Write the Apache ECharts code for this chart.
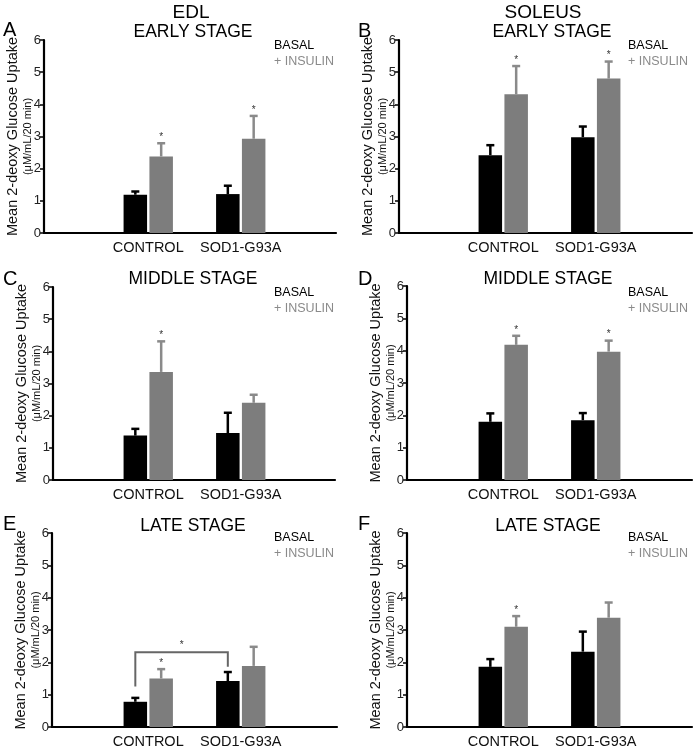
<!DOCTYPE html>
<html>
<head>
<meta charset="utf-8">
<script src="https://cdn.jsdelivr.net/npm/echarts@6/dist/echarts.min.js"></script>
<style>
  html, body { margin: 0; padding: 0; background: #fff; }
  #chart { width: 695px; height: 750px; }
</style>
</head>
<body>
<div id="chart"></div>
<script>
// ---------------- DATA ----------------
const categories = ['CONTROL', 'SOD1-G93A'];
const yTicks = [0, 1, 2, 3, 4, 5, 6];
const seriesNames = ['BASAL', '+ INSULIN'];

// Panel A: EDL early stage
const basalA = [1.19, 1.21];
const basalErrA = [0.10, 0.26];
const insulinA = [2.38, 2.93];
const insulinErrA = [0.41, 0.71];
const sigA = [1, 1];

// Panel B: Soleus early stage
const basalB = [2.42, 2.98];
const basalErrB = [0.31, 0.33];
const insulinB = [4.31, 4.80];
const insulinErrB = [0.88, 0.53];
const sigB = [1, 1];

// Panel C: EDL middle stage
const basalC = [1.38, 1.46];
const basalErrC = [0.21, 0.63];
const insulinC = [3.36, 2.40];
const insulinErrC = [0.95, 0.25];
const sigC = [1, 0];

// Panel D: Soleus middle stage
const basalD = [1.80, 1.85];
const basalErrD = [0.26, 0.22];
const insulinD = [4.18, 3.97];
const insulinErrD = [0.28, 0.34];
const sigD = [1, 1];

// Panel E: EDL late stage
const basalE = [0.78, 1.42];
const basalErrE = [0.12, 0.28];
const insulinE = [1.50, 1.89];
const insulinErrE = [0.29, 0.59];
const sigE = [1, 0];
// significance bracket between basal CONTROL and basal SOD1-G93A: [fromCat, toCat, top, leftFoot, rightFoot]
const bracketE = [0, 1, 2.31, 1.25, 1.86];

// Panel F: Soleus late stage
const basalF = [1.86, 2.33];
const basalErrF = [0.24, 0.62];
const insulinF = [3.10, 3.38];
const insulinErrF = [0.33, 0.47];
const sigF = [1, 0];

const panelLetters = ['A', 'B', 'C', 'D', 'E', 'F'];
const muscleTitles = ['EDL', 'SOLEUS'];
const stageTitles = ['EARLY STAGE', 'EARLY STAGE', 'MIDDLE STAGE', 'MIDDLE STAGE', 'LATE STAGE', 'LATE STAGE'];
const yTitle = 'Mean 2-deoxy Glucose Uptake';
const ySubTitle = '(\u03bcM/mL/20 min)';

// ---------------- LAYOUT / STYLE ----------------
const FONT = '"Liberation Sans", Arial, sans-serif';
const BASAL_COLOR = '#000000';
const INSULIN_COLOR = '#7d7d7d';
const INSULIN_ERR_COLOR = '#8a8a8a';
const BAR_W = 23.5;
const GAP_RATIO = 0.1;

const panelData = [
  { basal: basalA, basalErr: basalErrA, ins: insulinA, insErr: insulinErrA, sig: sigA },
  { basal: basalB, basalErr: basalErrB, ins: insulinB, insErr: insulinErrB, sig: sigB },
  { basal: basalC, basalErr: basalErrC, ins: insulinC, insErr: insulinErrC, sig: sigC },
  { basal: basalD, basalErr: basalErrD, ins: insulinD, insErr: insulinErrD, sig: sigD },
  { basal: basalE, basalErr: basalErrE, ins: insulinE, insErr: insulinErrE, sig: sigE, bracket: bracketE },
  { basal: basalF, basalErr: basalErrF, ins: insulinF, insErr: insulinErrF, sig: sigF }
];

// layout per panel: outer axis frame and inner bar area
const layout = [
  { axL: 44, axR: 336, top: 40, bottom: 233, inL: 102, inR: 287, letterX: 3, letterY: 30, stageX: 193, stageY: 32.5, legX: 274, legY: 39 },
  { axL: 399, axR: 692, top: 40, bottom: 233, inL: 457, inR: 642, letterX: 358, letterY: 31, stageX: 552, stageY: 32.5, legX: 628, legY: 39 },
  { axL: 53, axR: 335, top: 287, bottom: 480, inL: 102, inR: 287, letterX: 3, letterY: 279, stageX: 193, stageY: 279, legX: 274, legY: 286 },
  { axL: 407, axR: 692, top: 286, bottom: 480, inL: 457, inR: 642, letterX: 358, letterY: 279, stageX: 548, stageY: 279, legX: 628, legY: 286 },
  { axL: 52, axR: 337, top: 533, bottom: 727, inL: 102, inR: 287, letterX: 3, letterY: 524, stageX: 193, stageY: 526.5, legX: 274, legY: 531 },
  { axL: 407, axR: 692, top: 533, bottom: 727, inL: 457, inR: 642, letterX: 358, letterY: 524, stageX: 548, stageY: 526.5, legX: 628, legY: 531 }
];

function errRender(side, color) {
  return function (params, api) {
    const i = api.value(0), m = api.value(1), e = api.value(2), s = api.value(3);
    const off = side * (BAR_W + BAR_W * GAP_RATIO) / 2;
    const p0 = api.coord([i, m]);
    const p1 = api.coord([i, m + e]);
    const x = p0[0] + off;
    const children = [
      { type: 'line', shape: { x1: x, y1: p0[1], x2: x, y2: p1[1] }, style: { stroke: color, lineWidth: 2.5 } },
      { type: 'line', shape: { x1: x - 4, y1: p1[1], x2: x + 4, y2: p1[1] }, style: { stroke: color, lineWidth: 2.5 } }
    ];
    if (s) {
      children.push({ type: 'text', x: x, y: p1[1] - 1, style: { text: '*', fontSize: 10, fontFamily: FONT, fill: '#333', align: 'center', verticalAlign: 'bottom' } });
    }
    return { type: 'group', children: children };
  };
}

function bracketRender(params, api) {
  const a = api.value(0), b = api.value(1), top = api.value(2), lf = api.value(3), rf = api.value(4);
  const off = -(BAR_W + BAR_W * GAP_RATIO) / 2;
  const pa = api.coord([a, lf]), pb = api.coord([b, rf]);
  const pt = api.coord([a, top]);
  const xa = pa[0] + off, xb = pb[0] + off, yt = pt[1];
  return {
    type: 'group', children: [
      { type: 'polyline', shape: { points: [[xa, pa[1]], [xa, yt], [xb, yt], [xb, pb[1]]] }, style: { stroke: '#666', lineWidth: 2, fill: null } },
      { type: 'text', x: (xa + xb) / 2, y: yt - 2, style: { text: '*', fontSize: 10, fontFamily: FONT, fill: '#333', align: 'center', verticalAlign: 'bottom' } }
    ]
  };
}

const grid = [], xAxis = [], yAxis = [], series = [], legend = [], graphic = [];

layout.forEach(function (L, p) {
  const d = panelData[p];
  const h = L.bottom - L.top;
  const outer = grid.length;
  grid.push({ left: L.axL, top: L.top, width: L.axR - L.axL, height: h, containLabel: false });
  const inner = grid.length;
  grid.push({ left: L.inL, top: L.top, width: L.inR - L.inL, height: h, containLabel: false });

  // outer frame axes
  xAxis.push({
    gridIndex: outer, type: 'category', data: [''],
    axisLine: { show: true, lineStyle: { color: '#000', width: 2.2 } },
    axisTick: { show: false }, axisLabel: { show: false }, splitLine: { show: false }
  });
  yAxis.push({
    gridIndex: outer, type: 'value', min: yTicks[0], max: yTicks[yTicks.length - 1], interval: 1,
    axisLine: { show: true, lineStyle: { color: '#000', width: 2.2 } },
    axisTick: { show: true, length: 4, lineStyle: { color: '#000', width: 1.5 } },
    axisLabel: { fontSize: 13, color: '#222', fontFamily: FONT, margin: 3 },
    splitLine: { show: false },
    name: '{a|' + yTitle + '}\n{b|' + ySubTitle + '}',
    nameLocation: 'middle', nameRotate: 90, nameGap: 9, nameMoveOverlap: false,
    nameTextStyle: {
      fontFamily: FONT, color: '#111',
      rich: {
        a: { fontSize: 14.5, lineHeight: 17, fontFamily: FONT, color: '#111' },
        b: { fontSize: 11, lineHeight: 14, fontFamily: FONT, color: '#111' }
      }
    }
  });
  // inner bar axes
  const xi = xAxis.length;
  xAxis.push({
    gridIndex: inner, type: 'category', data: categories,
    axisLine: { show: false }, axisTick: { show: false },
    axisLabel: { interval: 0, hideOverlap: false, fontSize: 14.5, color: '#111', fontFamily: FONT, margin: 7 }
  });
  const yi = yAxis.length;
  yAxis.push({ gridIndex: inner, type: 'value', min: yTicks[0], max: yTicks[yTicks.length - 1], show: false, splitLine: { show: false } });

  series.push({
    name: seriesNames[0], type: 'bar', xAxisIndex: xi, yAxisIndex: yi, data: d.basal,
    barWidth: BAR_W, barGap: (GAP_RATIO * 100) + '%', itemStyle: { color: BASAL_COLOR }, z: 2
  });
  series.push({
    name: seriesNames[1], type: 'bar', xAxisIndex: xi, yAxisIndex: yi, data: d.ins,
    barWidth: BAR_W, barGap: (GAP_RATIO * 100) + '%', itemStyle: { color: INSULIN_COLOR }, z: 2
  });
  series.push({
    type: 'custom', xAxisIndex: xi, yAxisIndex: yi, z: 3,
    renderItem: errRender(-1, BASAL_COLOR),
    data: categories.map(function (c, i) { return [i, d.basal[i], d.basalErr[i], 0]; })
  });
  series.push({
    type: 'custom', xAxisIndex: xi, yAxisIndex: yi, z: 3,
    renderItem: errRender(1, INSULIN_ERR_COLOR),
    data: categories.map(function (c, i) { return [i, d.ins[i], d.insErr[i], d.sig[i]]; })
  });
  if (d.bracket) {
    series.push({
      type: 'custom', xAxisIndex: xi, yAxisIndex: yi, z: 4,
      renderItem: bracketRender, data: [d.bracket]
    });
  }

  legend.push({
    left: L.legX - 5, top: L.legY, orient: 'vertical', padding: 0,
    itemWidth: 0, itemHeight: 0, itemGap: 2, icon: 'none', selectedMode: false,
    textStyle: { fontSize: 12.5, fontFamily: FONT, lineHeight: 14 },
    data: [
      { name: seriesNames[0], textStyle: { color: '#000' } },
      { name: seriesNames[1], textStyle: { color: '#8a8a8a' } }
    ]
  });

  graphic.push({ type: 'text', x: L.letterX, y: L.letterY, style: { text: panelLetters[p], fontSize: 20, fontFamily: FONT, fill: '#000', align: 'left', verticalAlign: 'middle' } });
  graphic.push({ type: 'text', x: L.stageX, y: L.stageY, style: { text: stageTitles[p], fontSize: 17.5, fontFamily: FONT, fill: '#000', align: 'center', verticalAlign: 'middle' } });
});

graphic.push({ type: 'text', x: 191, y: 12.5, style: { text: muscleTitles[0], fontSize: 19, fontFamily: FONT, fill: '#000', align: 'center', verticalAlign: 'middle' } });
graphic.push({ type: 'text', x: 543, y: 12.5, style: { text: muscleTitles[1], fontSize: 19, fontFamily: FONT, fill: '#000', align: 'center', verticalAlign: 'middle' } });

const chart = echarts.init(document.getElementById('chart'), null, { renderer: 'canvas' });
chart.setOption({
  animation: false,
  backgroundColor: '#fff',
  textStyle: { fontFamily: FONT },
  grid: grid, xAxis: xAxis, yAxis: yAxis, series: series, legend: legend, graphic: graphic
});
</script>
</body>
</html>
